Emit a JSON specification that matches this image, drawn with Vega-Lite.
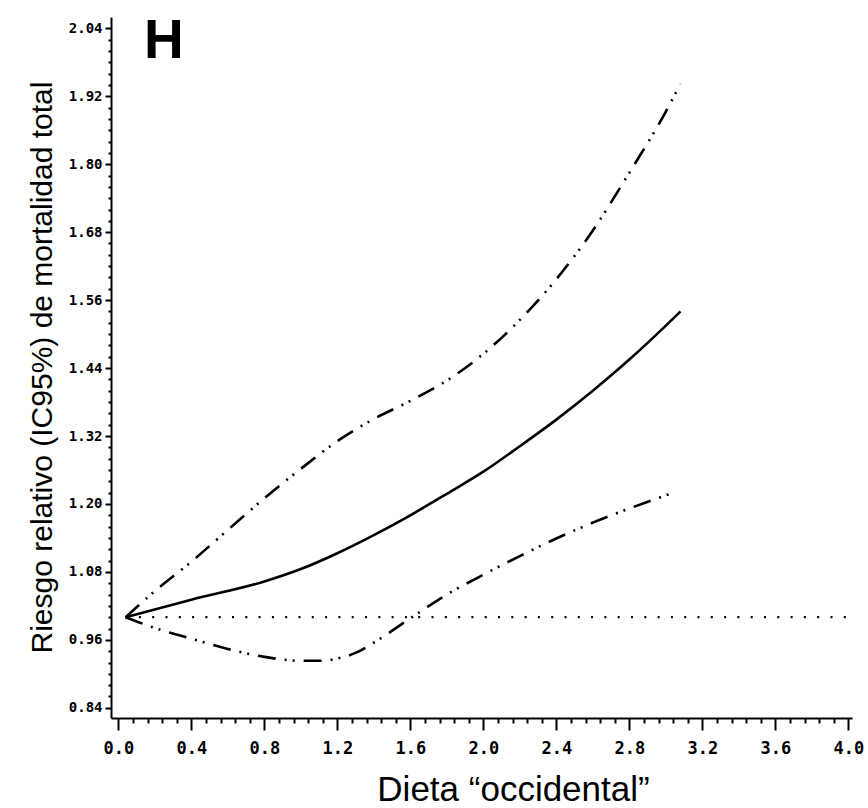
{
  "$schema": "https://vega.github.io/schema/vega-lite/v6.json",
  "autosize": "none",
  "width": 741,
  "height": 701,
  "padding": {"left": 111, "top": 17, "right": 16, "bottom": 90},
  "background": "white",
  "config": {"view": {"stroke": null}},
  "datasets": {
    "curves": [
      {"serie": "RR", "x": 0.04, "y": 1.0},
      {"serie": "RR", "x": 0.4, "y": 1.031},
      {"serie": "RR", "x": 0.8, "y": 1.063},
      {"serie": "RR", "x": 1.0, "y": 1.085},
      {"serie": "RR", "x": 1.2, "y": 1.113},
      {"serie": "RR", "x": 1.4, "y": 1.145},
      {"serie": "RR", "x": 1.6, "y": 1.18},
      {"serie": "RR", "x": 1.8, "y": 1.218},
      {"serie": "RR", "x": 2.0, "y": 1.257},
      {"serie": "RR", "x": 2.2, "y": 1.302},
      {"serie": "RR", "x": 2.4, "y": 1.349},
      {"serie": "RR", "x": 2.6, "y": 1.4},
      {"serie": "RR", "x": 2.8, "y": 1.455},
      {"serie": "RR", "x": 3.0, "y": 1.515},
      {"serie": "RR", "x": 3.08, "y": 1.54},
      {"serie": "IC95 superior", "x": 0.04, "y": 1.0},
      {"serie": "IC95 superior", "x": 0.2, "y": 1.046},
      {"serie": "IC95 superior", "x": 0.4, "y": 1.098},
      {"serie": "IC95 superior", "x": 0.6, "y": 1.154},
      {"serie": "IC95 superior", "x": 0.8, "y": 1.21},
      {"serie": "IC95 superior", "x": 1.0, "y": 1.262},
      {"serie": "IC95 superior", "x": 1.2, "y": 1.311},
      {"serie": "IC95 superior", "x": 1.4, "y": 1.35},
      {"serie": "IC95 superior", "x": 1.6, "y": 1.382},
      {"serie": "IC95 superior", "x": 1.8, "y": 1.418},
      {"serie": "IC95 superior", "x": 2.0, "y": 1.465},
      {"serie": "IC95 superior", "x": 2.2, "y": 1.525},
      {"serie": "IC95 superior", "x": 2.4, "y": 1.597},
      {"serie": "IC95 superior", "x": 2.6, "y": 1.683},
      {"serie": "IC95 superior", "x": 2.8, "y": 1.785},
      {"serie": "IC95 superior", "x": 3.0, "y": 1.893},
      {"serie": "IC95 superior", "x": 3.08, "y": 1.942},
      {"serie": "IC95 inferior", "x": 0.04, "y": 1.0},
      {"serie": "IC95 inferior", "x": 0.2, "y": 0.981},
      {"serie": "IC95 inferior", "x": 0.4, "y": 0.962},
      {"serie": "IC95 inferior", "x": 0.6, "y": 0.944},
      {"serie": "IC95 inferior", "x": 0.8, "y": 0.93},
      {"serie": "IC95 inferior", "x": 1.0, "y": 0.923},
      {"serie": "IC95 inferior", "x": 1.1, "y": 0.923},
      {"serie": "IC95 inferior", "x": 1.2, "y": 0.927},
      {"serie": "IC95 inferior", "x": 1.3, "y": 0.937},
      {"serie": "IC95 inferior", "x": 1.4, "y": 0.955},
      {"serie": "IC95 inferior", "x": 1.6, "y": 0.998},
      {"serie": "IC95 inferior", "x": 1.8, "y": 1.04},
      {"serie": "IC95 inferior", "x": 2.0, "y": 1.075},
      {"serie": "IC95 inferior", "x": 2.2, "y": 1.108},
      {"serie": "IC95 inferior", "x": 2.4, "y": 1.139},
      {"serie": "IC95 inferior", "x": 2.6, "y": 1.167},
      {"serie": "IC95 inferior", "x": 2.8, "y": 1.192},
      {"serie": "IC95 inferior", "x": 3.034, "y": 1.219}
    ],
    "ref": [
      {"x": 0.04, "x2": 4.0, "y": 1.0}
    ],
    "label": [
      {"x": 0.249, "y": 1.987, "text": "H"}
    ]
  },
  "layer": [
    {
      "data": {"name": "ref"},
      "mark": {"type": "rule", "color": "black", "strokeWidth": 2.2, "strokeDash": [2, 11.3]},
      "encoding": {
        "x": {
          "field": "x", "type": "quantitative",
          "scale": {"domain": [-0.04, 4.02], "nice": false, "zero": false},
          "axis": {
            "title": "Dieta “occidental”",
            "titleFont": "Liberation Sans",
            "titleFontSize": 35,
            "titleFontWeight": "normal",
            "titleColor": "black",
            "titleX": 402,
            "titleY": 82,
            "titleBaseline": "alphabetic",
            "titleAnchor": "middle",
            "tickCount": 200,
            "values": [0,0.08,0.16,0.24,0.32,0.4,0.48,0.56,0.64,0.72,0.8,0.88,0.96,1.04,1.12,1.2,1.28,1.36,1.44,1.52,1.6,1.68,1.76,1.84,1.92,2,2.08,2.16,2.24,2.32,2.4,2.48,2.56,2.64,2.72,2.8,2.88,2.96,3.04,3.12,3.2,3.28,3.36,3.44,3.52,3.6,3.68,3.76,3.84,3.92,4],
            "labelExpr": "abs(datum.value/0.4 - round(datum.value/0.4)) < 0.01 ? format(datum.value, '.1f') : ''",
            "labelOverlap": false,
            "labelFont": "DejaVu Sans Mono",
            "labelFontWeight": "bold",
            "labelFontSize": 17,
            "labelColor": "black",
            "labelBaseline": "top",
            "labelPadding": 10,
            "labelFlush": false,
            "labelBound": false,
            "grid": false,
            "domainColor": "black",
            "domainWidth": 2,
            "tickColor": "black",
            "tickWidth": 2,
            "tickSize": {"condition": {"test": "abs(datum.value/0.4 - round(datum.value/0.4)) < 0.01", "value": 12}, "value": 5}
          }
        },
        "x2": {"field": "x2"},
        "y": {
          "field": "y", "type": "quantitative",
          "scale": {"domain": [0.822, 2.06], "nice": false, "zero": false},
          "axis": {
            "title": "Riesgo relativo (IC95%) de mortalidad total",
            "titleFont": "Liberation Sans",
            "titleFontSize": 30,
            "titleFontWeight": "normal",
            "titleColor": "black",
            "titleX": -54,
            "titleY": 350,
            "titleAngle": 270,
            "titleBaseline": "bottom",
            "titleAnchor": "middle",
            "tickCount": 200,
            "values": [0.84,0.86,0.88,0.9,0.92,0.94,0.96,0.98,1,1.02,1.04,1.06,1.08,1.1,1.12,1.14,1.16,1.18,1.2,1.22,1.24,1.26,1.28,1.3,1.32,1.34,1.36,1.38,1.4,1.42,1.44,1.46,1.48,1.5,1.52,1.54,1.56,1.58,1.6,1.62,1.64,1.66,1.68,1.7,1.72,1.74,1.76,1.78,1.8,1.82,1.84,1.86,1.88,1.9,1.92,1.94,1.96,1.98,2,2.02,2.04],
            "labelExpr": "abs((datum.value-0.84)/0.12 - round((datum.value-0.84)/0.12)) < 0.01 ? format(datum.value, '.2f') : ''",
            "labelOverlap": false,
            "labelFont": "DejaVu Sans Mono",
            "labelFontWeight": "bold",
            "labelFontSize": 14,
            "labelColor": "black",
            "labelPadding": 3,
            "labelFlush": false,
            "labelBound": false,
            "grid": false,
            "domainColor": "black",
            "domainWidth": 2,
            "tickColor": "black",
            "tickWidth": 2,
            "tickSize": {"condition": {"test": "abs((datum.value-0.84)/0.12 - round((datum.value-0.84)/0.12)) < 0.01", "value": 6}, "value": 3}
          }
        }
      }
    },
    {
      "data": {"name": "curves"},
      "transform": [{"filter": "datum.serie == 'RR'"}],
      "mark": {"type": "line", "color": "black", "strokeWidth": 2.6, "interpolate": "monotone"},
      "encoding": {
        "x": {"field": "x", "type": "quantitative"},
        "y": {"field": "y", "type": "quantitative"}
      }
    },
    {
      "data": {"name": "curves"},
      "transform": [{"filter": "datum.serie != 'RR'"}],
      "mark": {"type": "line", "color": "black", "strokeWidth": 2.6, "interpolate": "monotone", "strokeDash": [18, 9, 2, 6, 2, 9]},
      "encoding": {
        "x": {"field": "x", "type": "quantitative"},
        "y": {"field": "y", "type": "quantitative"},
        "detail": {"field": "serie"}
      }
    },
    {
      "data": {"name": "label"},
      "mark": {"type": "text", "font": "Liberation Sans", "fontWeight": "bold", "fontSize": 55, "align": "center", "baseline": "alphabetic", "color": "black"},
      "encoding": {
        "x": {"field": "x", "type": "quantitative"},
        "y": {"field": "y", "type": "quantitative"},
        "text": {"field": "text"}
      }
    }
  ]
}
